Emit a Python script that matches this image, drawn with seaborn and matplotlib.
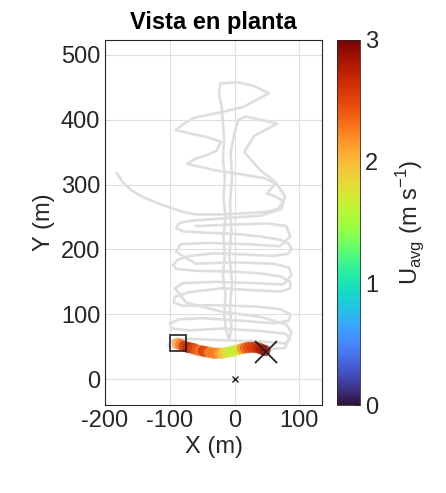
import numpy as np
import pandas as pd
import matplotlib
matplotlib.use("Agg")
import matplotlib.pyplot as plt
import seaborn as sns

# ---- data ----
track_x = [-182, -172, -158, -140, -110, -80, -60, -20, 20, 50, 66, 76, 62, 50, 58, 63, 45, 10, -30, -73,
           -60, -42, -28, -21, -45, -70, -91, -78, -63, -19, 14, 40, 53, 30, 4, -22, -24, -20, -18, -16,
           -18, -15, -17, -14, -17, -15, -18, -14, -16, -13, -8, -5, -7, -4, -8, -5, -7, -4, -6, 0,
           6, 17, 40, 66, 30, 15, 40, 62, 78, 72, 40,
           10, -30, -70, -86, -90, -80, -50, 0, 40, 70, 84, 88, 82, 60, 20, -30, -70, -88, -95, -90,
           -60, -10, 40, 72, 86, 86, 72, 30, -20, -70, -92, -94, -80, -30, 30, 70, 86, 84, 60, 10,
           -50, -85, -100, -96, -70, -20, 40, 78, 86, 78, 40, -20, -70, -96, -102, -90, -50, 0, 50, 78,
           88, 80, 40, -20, -75, -92, -80, -30, 30, 75, 88, 84, 60, 0, -60, -90, -84, -40, 20, 70,
           86, 80, 50, -10, -60]
track_y = [318, 303, 290, 280, 268, 258, 254, 254, 256, 258, 262, 274, 282, 286, 296, 302, 310, 316, 322, 332,
           340, 346, 352, 366, 374, 379, 384, 394, 403, 412, 420, 434, 441, 452, 458, 456, 440, 420, 395, 370,
           340, 310, 280, 250, 220, 190, 160, 130, 100, 75, 60, 80, 110, 150, 190, 230, 270, 310, 350, 380,
           400, 405, 400, 394, 375, 350, 322, 305, 282, 262, 252,
           250, 247, 244, 240, 233, 228, 226, 224, 220, 215, 208, 200, 193, 190, 192, 194, 190, 184, 176, 170,
           167, 166, 163, 158, 150, 140, 135, 137, 140, 134, 127, 118, 113, 114, 112, 108, 100, 90, 86, 90,
           94, 92, 86, 78, 75, 78, 74, 70, 62, 55, 58, 60, 62, 60, 52, 46, 44, 45, 46, 48,
           72, 84, 96, 104, 118, 140, 148, 150, 148, 146, 160, 172, 178, 180, 178, 196, 208, 210, 208, 205,
           220, 236, 240, 238, 236]

seg_x = [-88, -83, -78, -73, -68, -63, -58, -53, -48, -43, -38, -33, -28, -23, -18, -13, -8, -3, 2, 7,
         12, 17, 22, 27, 32, 37, 42, 47]
seg_y = [55, 53, 51, 49, 48, 47, 45, 44, 43, 42, 41, 40, 40, 40, 40, 41, 42, 43, 44, 46,
         47, 48, 49, 49, 49, 48, 46, 44]
seg_u = [2.15, 2.3, 2.6, 2.7, 2.65, 2.5, 2.4, 2.3, 2.6, 2.45, 2.2, 2.3, 2.25, 2.1, 1.9, 1.75, 1.7, 1.65, 1.7, 1.8,
         2.2, 2.4, 2.5, 2.55, 2.6, 2.7, 2.8, 2.9]

start_pt = (-88, 55)
end_pt = (48, 42)
origin_pt = (0, 0)

x_ticks = [-200, -100, 0, 100]
y_ticks = [0, 100, 200, 300, 400, 500]
cb_ticks = [0, 1, 2, 3]

# ---- style ----
sns.set_style("white")
plt.rcParams['font.family'] = ['Liberation Sans', 'DejaVu Sans']
plt.rcParams['axes.unicode_minus'] = False

fig = plt.figure(figsize=(4.46, 4.93), dpi=100)
ax = fig.add_axes([105/446, 88/493, 217/446, 365/493])
cax = fig.add_axes([337/446, 88/493, 23/446, 365/493])

track = pd.DataFrame({"x": track_x, "y": track_y})
sns.lineplot(data=track, x="x", y="y", sort=False, estimator=None, color="#dedede",
             linewidth=1.9, ax=ax, zorder=2)

seg = pd.DataFrame({"x": seg_x, "y": seg_y, "u": seg_u})
cmap = plt.get_cmap("turbo")
norm = matplotlib.colors.Normalize(0, 3)
sns.scatterplot(data=seg, x="x", y="y", hue="u", palette="turbo", hue_norm=(0, 3),
                s=55, alpha=0.75, linewidth=0.6, legend=False, ax=ax, zorder=3)
for c in ax.collections:
    c.set_edgecolor(c.get_facecolor())

ax.plot(*start_pt, marker="s", markersize=12, markerfacecolor="none",
        markeredgecolor="#222222", markeredgewidth=1.2, zorder=5)
ax.plot(*end_pt, marker="x", markersize=16, color="#222222", markeredgewidth=1.3, zorder=5)
ax.plot(*origin_pt, marker="x", markersize=5, color="#222222", markeredgewidth=1.0, zorder=5)

ax.set_xlim(-200, 135)
ax.set_ylim(-40, 523)
ax.set_xticks(x_ticks)
ax.set_yticks(y_ticks)
ax.grid(True, color="#dedede", linewidth=0.8)
ax.set_axisbelow(True)
ax.tick_params(direction="in", length=4, labelsize=17, colors="#262626", width=0.6)
for sp in ax.spines.values():
    sp.set_color("#262626")
    sp.set_linewidth(0.8)
ax.set_xlabel("X (m)", fontsize=17, color="#262626", labelpad=3)
ax.set_ylabel("Y (m)", fontsize=17, color="#262626", labelpad=4)
ax.set_title("Vista en planta", fontsize=17, fontweight="bold", color="#000000", pad=8)

sm = matplotlib.cm.ScalarMappable(norm=norm, cmap=cmap)
cb = fig.colorbar(sm, cax=cax, ticks=cb_ticks)
cb.ax.tick_params(labelsize=17, direction="in", length=4, colors="#262626", width=0.6)
cb.outline.set_linewidth(0.6)
cb.set_label(r"U$_{\mathregular{avg}}$ (m s$^{\mathregular{-1}}$)", fontsize=17, color="#262626", labelpad=12)

fig.savefig("out.png", dpi=100)
